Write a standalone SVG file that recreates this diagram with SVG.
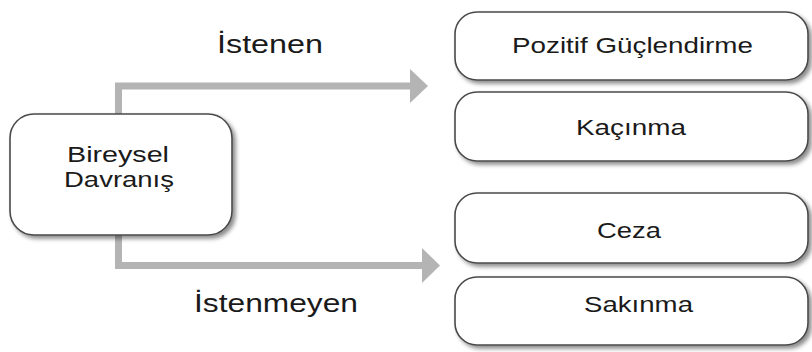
<svg xmlns="http://www.w3.org/2000/svg" width="812" height="352" viewBox="0 0 812 352">
<style>
.box{fill:#fff;stroke:#4a4a4a;stroke-width:1.6;filter:url(#sh)}
.t{font-family:"Liberation Sans",Arial,sans-serif;fill:#1a1a1a;font-size:22px}
.lbl{font-family:"Liberation Sans",Arial,sans-serif;fill:#1a1a1a;font-size:25px}
.ln{fill:none;stroke:#b4b4b4;stroke-width:7}
.hd{fill:#b4b4b4}
</style>
<defs>
<filter id="sh" x="-10%" y="-10%" width="125%" height="135%">
<feDropShadow dx="3" dy="3" stdDeviation="2" flood-color="#000" flood-opacity="0.45"/>
</filter>
</defs>
<rect width="812" height="352" fill="#fff"/>
<g id="connectors">
<path class="ln" d="M118.5,116 V86 H411"/>
<polygon class="hd" points="410,69 428,86 410,103"/>
<path class="ln" d="M118.5,233 V265.5 H423"/>
<polygon class="hd" points="422,248 440,265.5 422,283"/>
</g>
<g id="label-istenen"><text class="lbl" x="217" y="53" textLength="106" lengthAdjust="spacingAndGlyphs">İstenen</text></g>
<g id="label-istenmeyen"><text class="lbl" x="194" y="312" textLength="164" lengthAdjust="spacingAndGlyphs">İstenmeyen</text></g>
<g id="node-bireysel">
<rect class="box" x="10" y="114" width="222" height="121" rx="24"/>
<text class="t" x="67" y="162" textLength="102" lengthAdjust="spacingAndGlyphs">Bireysel</text>
<text class="t" x="64" y="187" textLength="110" lengthAdjust="spacingAndGlyphs">Davranış</text>
</g>
<g id="node-pozitif">
<rect class="box" x="455" y="12" width="353" height="68" rx="22"/>
<text class="t" x="512" y="53" textLength="241" lengthAdjust="spacingAndGlyphs">Pozitif Güçlendirme</text>
</g>
<g id="node-kacinma">
<rect class="box" x="455" y="92" width="353" height="69" rx="22"/>
<text class="t" x="576" y="135" textLength="110" lengthAdjust="spacingAndGlyphs">Kaçınma</text>
</g>
<g id="node-ceza">
<rect class="box" x="455" y="193" width="353" height="70" rx="22"/>
<text class="t" x="597" y="238" textLength="64" lengthAdjust="spacingAndGlyphs">Ceza</text>
</g>
<g id="node-sakinma">
<rect class="box" x="455" y="277" width="353" height="68" rx="22"/>
<text class="t" x="584" y="312" textLength="109" lengthAdjust="spacingAndGlyphs">Sakınma</text>
</g>
</svg>
